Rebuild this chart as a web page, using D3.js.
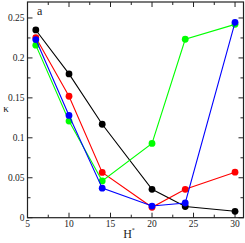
<!DOCTYPE html>
<html>
<head>
<meta charset="utf-8">
<script src="https://cdn.jsdelivr.net/npm/d3@7"></script>
<style>
  body { margin: 0; background: #fff; }
  svg text { font-family: "Liberation Serif", "DejaVu Serif", serif; fill: #222; }
</style>
</head>
<body>
<svg id="chart" width="245" height="243"></svg>
<script>
// H* values on the x axis
var hStar = [6, 10, 14, 20, 24, 30];
// kappa for each series
var blackK = [0.235, 0.180, 0.117, 0.0355, 0.014, 0.008];
var redK   = [0.2255, 0.152, 0.0567, 0.013, 0.0355, 0.057];
var greenK = [0.216, 0.121, 0.046, 0.093, 0.2234, 0.242];
var blueK  = [0.223, 0.128, 0.037, 0.0146, 0.0184, 0.2446];
var seriesColors = ["#000000", "#ff0000", "#00ff00", "#0000ff"];
var xTicks = [5, 10, 15, 20, 25, 30];
var yTicks = [0, 0.05, 0.1, 0.15, 0.2, 0.25];
var yTickLabels = ["0", "0.05", "0.1", "0.15", "0.2", "0.25"];

var svg = d3.select("#chart"),
    plotL = 27.5, plotR = 243.5, plotT = 2, plotB = 217.7;

var x = d3.scaleLinear().domain([5, 31.02]).range([plotL, plotR]);
var y = d3.scaleLinear().domain([0, 0.27]).range([plotB, plotT]);

// frame
svg.append("rect")
    .attr("x", plotL).attr("y", plotT)
    .attr("width", plotR - plotL).attr("height", plotB - plotT)
    .attr("fill", "none").attr("stroke", "#222").attr("stroke-width", 1.2);

// ticks pointing inside, on all four sides
var xMinor = d3.range(7.5, 31, 5), yMinor = d3.range(0.025, 0.27, 0.05);
var tk = svg.append("g").attr("stroke", "#222").attr("stroke-width", 1);
function xTick(v, len) {
    tk.append("line").attr("x1", x(v)).attr("x2", x(v)).attr("y1", plotB).attr("y2", plotB - len);
    tk.append("line").attr("x1", x(v)).attr("x2", x(v)).attr("y1", plotT).attr("y2", plotT + len);
}
function yTick(v, len) {
    tk.append("line").attr("y1", y(v)).attr("y2", y(v)).attr("x1", plotL).attr("x2", plotL + len);
    tk.append("line").attr("y1", y(v)).attr("y2", y(v)).attr("x1", plotR).attr("x2", plotR - len);
}
xTicks.forEach(v => xTick(v, 5));
xMinor.forEach(v => xTick(v, 3));
yTicks.forEach(v => yTick(v, 5));
yMinor.forEach(v => yTick(v, 3));

// tick labels
svg.append("g").selectAll("text").data(xTicks).join("text")
    .attr("x", d => x(d)).attr("y", plotB + 9.5)
    .attr("text-anchor", "middle").style("font-size", "9.5px")
    .text(d => d);
svg.append("g").selectAll("text").data(yTicks).join("text")
    .attr("x", plotL - 3).attr("y", d => y(d) + 3.5)
    .attr("text-anchor", "end").style("font-size", "9.5px")
    .text((d, i) => yTickLabels[i]);

// axis titles and panel letter
svg.append("text").attr("x", 6).attr("y", 112)
    .attr("text-anchor", "middle").style("font-size", "11px").text("κ");
var hl = svg.append("text").attr("x", 129).attr("y", 238)
    .attr("text-anchor", "middle").style("font-size", "12px");
hl.append("tspan").text("H");
hl.append("tspan").attr("dy", -6).style("font-size", "6px").text("*");
svg.append("text").attr("x", 37).attr("y", 15).style("font-size", "12px").text("a");

// series
var allSeries = [blackK, redK, greenK, blueK];
var line = d3.line().x((d, i) => x(hStar[i])).y(d => y(d));
allSeries.forEach(function (vals, s) {
    var g = svg.append("g");
    g.append("path").datum(vals).attr("d", line)
        .attr("fill", "none").attr("stroke", seriesColors[s]).attr("stroke-width", 1.1);
    g.selectAll("circle").data(vals).join("circle")
        .attr("cx", (d, i) => x(hStar[i])).attr("cy", d => y(d))
        .attr("r", 3.4).attr("fill", seriesColors[s]);
});
</script>
</body>
</html>
